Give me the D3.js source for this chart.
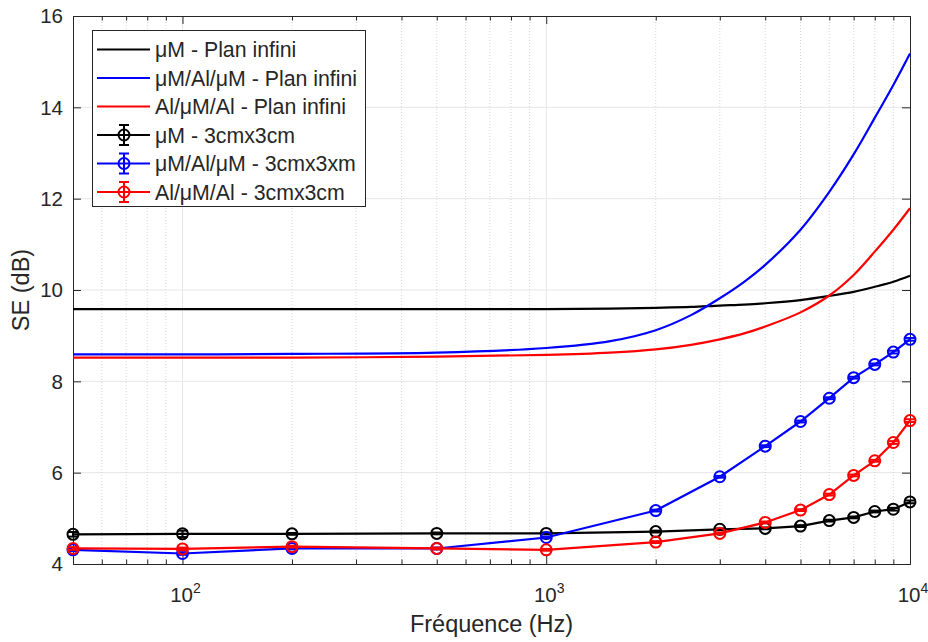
<!DOCTYPE html>
<html><head><meta charset="utf-8">
<script src="https://cdn.jsdelivr.net/npm/d3@7"></script>
<style>
body{margin:0;background:#fff}
svg{display:block}
text{font-family:"Liberation Sans",Arial,Helvetica,sans-serif;fill:#262626}
</style>
</head><body>
<svg id="c" width="928" height="642"></svg>
<script>
// ---------- DATA ----------
const freqMeas = [50,100,200,500,1000,2000,3000,4000,5000,6000,7000,8000,9000,10000];
const measBlack = [4.65,4.66,4.66,4.67,4.67,4.71,4.76,4.78,4.83,4.95,5.02,5.15,5.20,5.36];
const measBlue  = [4.31,4.23,4.34,4.34,4.58,5.17,5.91,6.58,7.12,7.63,8.08,8.37,8.64,8.92];
const measRed   = [4.34,4.33,4.38,4.34,4.31,4.48,4.67,4.91,5.18,5.52,5.94,6.26,6.66,7.14];
const errBlack  = [0.05,0.07,0.02,0.02,0.02,0.02,0.02,0.02,0.02,0.02,0.02,0.02,0.03,0.03];
const errBlue   = [0.03,0.03,0.02,0.02,0.02,0.02,0.02,0.02,0.02,0.02,0.02,0.02,0.03,0.03];
const errRed    = [0.03,0.03,0.02,0.02,0.02,0.02,0.02,0.02,0.02,0.02,0.02,0.02,0.03,0.03];

const freqInf = [50,100,200,500,1000,1500,2000,2500,3000,3500,4000,5000,6000,7000,8000,9000,10000];
const infBlack = [9.58,9.58,9.58,9.58,9.58,9.59,9.61,9.63,9.66,9.68,9.71,9.78,9.87,9.96,10.07,10.18,10.31];
const infBlue  = [8.59,8.59,8.60,8.63,8.73,8.88,9.12,9.45,9.82,10.18,10.55,11.32,12.15,12.97,13.77,14.49,15.18];
const infRed   = [8.52,8.52,8.52,8.54,8.58,8.63,8.70,8.80,8.92,9.05,9.20,9.51,9.88,10.33,10.84,11.32,11.79];

const yTicks = [4,6,8,10,12,14,16];
const xMajor = [100,1000,10000];
const xMajorLabels = [["10","2"],["10","3"],["10","4"]];
const xMinor = [50,60,70,80,90,200,300,400,500,600,700,800,900,2000,3000,4000,5000,6000,7000,8000,9000];

const legendLabels = ["μM - Plan infini","μM/Al/μM - Plan infini","Al/μM/Al - Plan infini",
                      "μM - 3cmx3cm","μM/Al/μM - 3cmx3xm","Al/μM/Al - 3cmx3cm"];
const colors = ["#000000","#0000ff","#ff0000"];

// ---------- LAYOUT ----------
const L=73, R=910, T=16, B=564;
const svg = d3.select("#c");
const x = d3.scaleLog().domain([50,10000]).range([L,R]);
const y = d3.scaleLinear().domain([4,16]).range([B,T]);
const axisCol = "#262626";

// grid
const g = svg.append("g");
g.selectAll(".gy").data(yTicks.slice(1,-1)).join("line")
  .attr("x1",L).attr("x2",R).attr("y1",d=>y(d)).attr("y2",d=>y(d))
  .attr("stroke","#e6e6e6").attr("stroke-width",1);
g.selectAll(".gxm").data(xMinor.filter(d=>d>50)).join("line")
  .attr("x1",d=>x(d)).attr("x2",d=>x(d)).attr("y1",T).attr("y2",B)
  .attr("stroke","#cccccc").attr("stroke-width",0.8).attr("stroke-dasharray","1,2");
g.selectAll(".gxM").data(xMajor.slice(0,2)).join("line")
  .attr("x1",d=>x(d)).attr("x2",d=>x(d)).attr("y1",T).attr("y2",B)
  .attr("stroke","#e6e6e6").attr("stroke-width",1);

// axes (box + inward ticks)
function styleAxis(sel){
  sel.selectAll("path,line").attr("stroke",axisCol).attr("stroke-width",1);
  sel.selectAll("text").remove();
}
svg.append("g").attr("transform",`translate(0,${B})`)
  .call(d3.axisBottom(x).tickValues(xMajor).tickSizeInner(-8).tickSizeOuter(0).tickFormat(""))
  .call(styleAxis);
svg.append("g").attr("transform",`translate(0,${B})`)
  .call(d3.axisBottom(x).tickValues(xMinor).tickSizeInner(-4.5).tickSizeOuter(0).tickFormat(""))
  .call(styleAxis);
svg.append("g").attr("transform",`translate(0,${T})`)
  .call(d3.axisTop(x).tickValues(xMajor).tickSizeInner(-8).tickSizeOuter(0).tickFormat(""))
  .call(styleAxis);
svg.append("g").attr("transform",`translate(0,${T})`)
  .call(d3.axisTop(x).tickValues(xMinor).tickSizeInner(-4.5).tickSizeOuter(0).tickFormat(""))
  .call(styleAxis);
svg.append("g").attr("transform",`translate(${L},0)`)
  .call(d3.axisLeft(y).tickValues(yTicks).tickSizeInner(-8).tickSizeOuter(0).tickFormat(""))
  .call(styleAxis);
svg.append("g").attr("transform",`translate(${R},0)`)
  .call(d3.axisRight(y).tickValues(yTicks).tickSizeInner(-8).tickSizeOuter(0).tickFormat(""))
  .call(styleAxis);

// tick labels
svg.selectAll(".yl").data(yTicks).join("text")
  .attr("x",L-10).attr("y",d=>y(d)).attr("dy","0.36em")
  .attr("text-anchor","end").style("font-size","20.5px").text(d=>d);
const xl = svg.selectAll(".xl").data(xMajor).join("text")
  .attr("x",d=>x(d)+3).attr("y",602).attr("text-anchor","middle").style("font-size","20.5px");
xl.append("tspan").text((d,i)=>xMajorLabels[i][0]);
xl.append("tspan").attr("dy",-9).style("font-size","14px").text((d,i)=>xMajorLabels[i][1]);

// axis labels
svg.append("text").attr("x",(L+R)/2).attr("y",632).attr("text-anchor","middle")
  .style("font-size","23.5px").text("Fréquence (Hz)");
svg.append("text").attr("transform",`translate(29,${(T+B)/2}) rotate(-90)`).attr("text-anchor","middle")
  .style("font-size","23.5px").text("SE (dB)");

// infinite-plane curves
const line = d3.line().x(d=>x(d[0])).y(d=>y(d[1])).curve(d3.curveCatmullRom.alpha(0.5));
[infBlack,infBlue,infRed].forEach((vals,i)=>{
  svg.append("path").datum(freqInf.map((f,k)=>[f,vals[k]]))
    .attr("d",line).attr("fill","none").attr("stroke",colors[i]).attr("stroke-width",2.2);
});

// measured series with error bars
const lineLin = d3.line().x(d=>x(d[0])).y(d=>y(d[1]));
[[measBlack,errBlack],[measBlue,errBlue],[measRed,errRed]].forEach(([vals,errs],i)=>{
  const data = freqMeas.map((f,k)=>[f,vals[k],errs[k]]);
  const gg = svg.append("g").attr("stroke",colors[i]).attr("fill","none");
  gg.append("path").datum(data).attr("d",lineLin).attr("stroke-width",2.2);
  const pt = gg.selectAll("g.p").data(data).join("g");
  pt.append("line").attr("x1",d=>x(d[0])).attr("x2",d=>x(d[0]))
    .attr("y1",d=>y(d[1]-d[2])).attr("y2",d=>y(d[1]+d[2])).attr("stroke-width",2);
  pt.append("line").attr("x1",d=>x(d[0])-5).attr("x2",d=>x(d[0])+5)
    .attr("y1",d=>y(d[1]-d[2])).attr("y2",d=>y(d[1]-d[2])).attr("stroke-width",2);
  pt.append("line").attr("x1",d=>x(d[0])-5).attr("x2",d=>x(d[0])+5)
    .attr("y1",d=>y(d[1]+d[2])).attr("y2",d=>y(d[1]+d[2])).attr("stroke-width",2);
  pt.append("circle").attr("cx",d=>x(d[0])).attr("cy",d=>y(d[1])).attr("r",5.5).attr("stroke-width",2);
});

// legend
const lg = svg.append("g");
lg.append("rect").attr("x",92.5).attr("y",30.5).attr("width",273).attr("height",176)
  .attr("fill","#fff").attr("stroke",axisCol).attr("stroke-width",1);
legendLabels.forEach((lab,i)=>{
  const cy = 49.5 + i*28.5;
  const c = colors[i%3];
  lg.append("line").attr("x1",97).attr("x2",150).attr("y1",cy).attr("y2",cy)
    .attr("stroke",c).attr("stroke-width",2.2);
  if(i>=3){
    lg.append("line").attr("x1",124).attr("x2",124).attr("y1",cy-10).attr("y2",cy+10).attr("stroke",c).attr("stroke-width",2);
    lg.append("line").attr("x1",119).attr("x2",129).attr("y1",cy-10).attr("y2",cy-10).attr("stroke",c).attr("stroke-width",2);
    lg.append("line").attr("x1",119).attr("x2",129).attr("y1",cy+10).attr("y2",cy+10).attr("stroke",c).attr("stroke-width",2);
    lg.append("circle").attr("cx",124).attr("cy",cy).attr("r",5.5).attr("fill","none").attr("stroke",c).attr("stroke-width",2);
  }
  lg.append("text").attr("x",155).attr("y",cy).attr("dy","0.36em").style("font-size","21.3px").text(lab);
});
</script>
</body></html>
